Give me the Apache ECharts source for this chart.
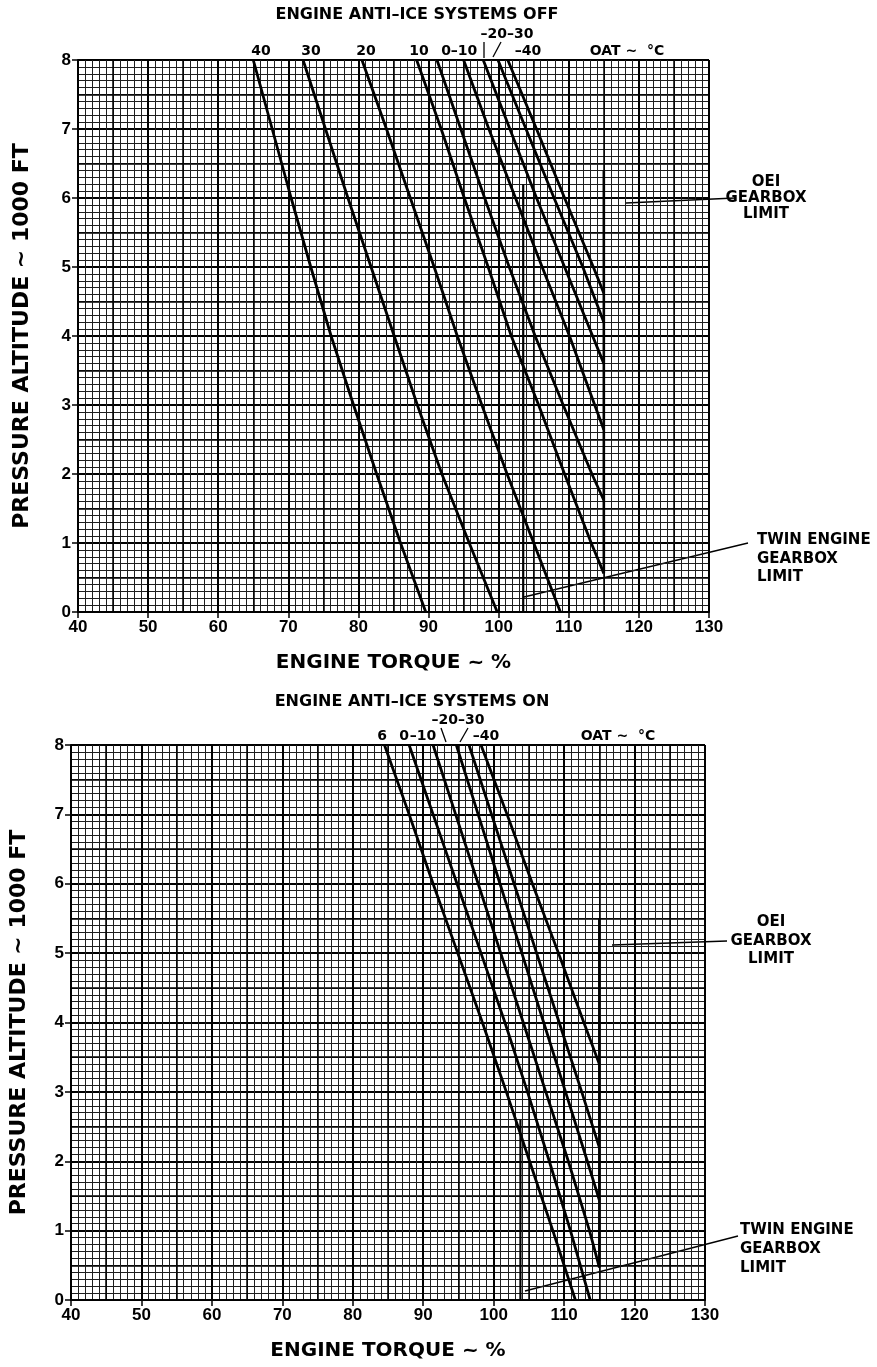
<!DOCTYPE html>
<html>
<head>
<meta charset="utf-8">
<script src="https://cdn.jsdelivr.net/npm/echarts@6/dist/echarts.min.js"></script>
<style>
  html, body { margin: 0; padding: 0; background: #fff; }
  #chart { width: 877px; height: 1367px; }
</style>
</head>
<body>
<div id="chart"></div>
<script>
// pressure altitude (1000 ft) vs engine torque (%), one line per OAT
var altitudes = [8, 7, 6, 5, 4, 3, 2, 1, 0];

// anti-ice OFF
var offLines = {
  '40':  [[65.0, 8], [67.7, 7], [70.4, 6], [73.2, 5], [76.1, 4], [79.3, 3], [82.6, 2], [86.0, 1], [89.6, 0]],
  '30':  [[72.1, 8], [75.3, 7], [78.5, 6], [81.8, 5], [85.1, 4], [88.4, 3], [91.9, 2], [95.8, 1], [99.8, 0]],
  '20':  [[80.5, 8], [84.0, 7], [87.4, 6], [90.8, 5], [94.1, 4], [97.6, 3], [101.2, 2], [105.0, 1], [108.8, 0]],
  '10':  [[88.3, 8], [91.8, 7], [95.1, 6], [98.5, 5], [101.8, 4], [105.7, 3], [109.4, 2], [113.2, 1], [115, 0.56]],
  '0':   [[91.2, 8], [94.6, 7], [98.0, 6], [101.5, 5], [105.2, 4], [109.2, 3], [113.3, 2], [115, 1.62]],
  '-10': [[95.0, 8], [98.6, 7], [102.4, 6], [106.2, 5], [110.1, 4], [113.7, 3], [115, 2.64]],
  '-20': [[97.8, 8], [101.6, 7], [105.4, 6], [109.4, 5], [113.4, 4], [115, 3.6]],
  '-30': [[99.9, 8], [103.9, 7], [107.9, 6], [112.0, 5], [115, 4.2]],
  '-40': [[101.3, 8], [105.4, 7], [109.4, 6], [113.5, 5], [115, 4.62]]
};
var offOei = [[115, 0.56], [115, 6.4]];
var offTwin = [[103.5, 0], [103.5, 6.2]];

// anti-ice ON
var onLines = {
  '6':   [[84.5, 8], [88.0, 7], [91.4, 6], [94.9, 5], [98.4, 4], [101.8, 3], [105.1, 2], [108.4, 1], [111.6, 0]],
  '0':   [[88.0, 8], [91.4, 7], [94.8, 6], [98.2, 5], [101.6, 4], [104.8, 3], [107.9, 2], [110.9, 1], [113.7, 0]],
  '-10': [[91.4, 8], [94.6, 7], [97.8, 6], [101.0, 5], [104.2, 4], [107.4, 3], [110.6, 2], [113.6, 1], [115, 0.47]],
  '-20': [[94.7, 8], [97.8, 7], [100.9, 6], [104.0, 5], [107.1, 4], [110.2, 3], [113.3, 2], [115, 1.44]],
  '-30': [[96.5, 8], [99.7, 7], [102.9, 6], [106.1, 5], [109.3, 4], [112.5, 3], [115, 2.2]],
  '-40': [[98.2, 8], [101.9, 7], [105.5, 6], [109.2, 5], [112.8, 4], [115, 3.4]]
};
var onOei = [[115, 0.47], [115, 5.5]];
var onTwin = [[103.8, 0], [103.8, 2.6]];

var FONT = '"Liberation Sans", Arial, sans-serif';
var WIDE = '"DejaVu Sans", sans-serif';

function mainX(grid, name, gap) {
  return {
    gridIndex: grid, type: 'value', min: 40, max: 130, interval: 10,
    name: name, nameLocation: 'middle', nameGap: gap,
    nameTextStyle: { fontFamily: WIDE, fontWeight: 'bold', fontSize: 20, color: '#000' },
    axisLine: { lineStyle: { color: '#000', width: 2 } },
    axisTick: { show: true, length: 6, lineStyle: { color: '#000', width: 1.5 } },
    axisLabel: { fontFamily: FONT, fontWeight: 'bold', fontSize: 17, color: '#000', margin: 7 },
    splitLine: { show: true, lineStyle: { color: '#000', width: 2 } },
    minorTick: { show: false, splitNumber: 10 },
    minorSplitLine: { show: true, lineStyle: { color: '#1e1e1e', width: 1 } }
  };
}
function midX(grid) {
  return {
    gridIndex: grid, type: 'value', min: 40, max: 130, interval: 5,
    axisLine: { show: false }, axisTick: { show: false }, axisLabel: { show: false },
    splitLine: { show: true, lineStyle: { color: '#000', width: 1.5 } }
  };
}
function mainY(grid, name, gap) {
  return {
    gridIndex: grid, type: 'value', min: 0, max: 8, interval: 1,
    name: name, nameLocation: 'middle', nameGap: gap, nameRotate: 90,
    nameTextStyle: { fontFamily: WIDE, fontWeight: 'bold', fontSize: 22, color: '#000' },
    axisLine: { lineStyle: { color: '#000', width: 2 } },
    axisTick: { show: true, length: 6, lineStyle: { color: '#000', width: 1.5 } },
    axisLabel: { fontFamily: FONT, fontWeight: 'bold', fontSize: 17, color: '#000', margin: 7 },
    splitLine: { show: true, lineStyle: { color: '#000', width: 2 } },
    minorTick: { show: false, splitNumber: 10 },
    minorSplitLine: { show: true, lineStyle: { color: '#1e1e1e', width: 1 } }
  };
}
function midY(grid) {
  return {
    gridIndex: grid, type: 'value', min: 0, max: 8, interval: 0.5,
    axisLine: { show: false }, axisTick: { show: false }, axisLabel: { show: false },
    splitLine: { show: true, lineStyle: { color: '#000', width: 1.5 } }
  };
}

function curve(data, g, w) {
  return {
    type: 'line', data: data, xAxisIndex: g * 2, yAxisIndex: g * 2,
    showSymbol: false, silent: true, animation: false,
    lineStyle: { color: '#000', width: w || 2.8 }
  };
}

var series = [];
Object.keys(offLines).forEach(function (k) { series.push(curve(offLines[k], 0)); });
series.push(curve(offOei, 0, 2.6));
series.push(curve(offTwin, 0, 2.2));
Object.keys(onLines).forEach(function (k) { series.push(curve(onLines[k], 1)); });
series.push(curve(onOei, 1, 2.6));
series.push(curve(onTwin, 1, 2.2));

function txt(x, y, s, size, align) {
  return {
    type: 'text', x: x, y: y, silent: true,
    style: { text: s, fontFamily: WIDE, fontWeight: 'bold', fontSize: size || 14,
             fill: '#000', align: align || 'center', verticalAlign: 'middle' }
  };
}
function seg(x1, y1, x2, y2, w) {
  return { type: 'line', silent: true, shape: { x1: x1, y1: y1, x2: x2, y2: y2 },
           style: { stroke: '#000', lineWidth: w || 1.3 } };
}

var graphics = [
  // top panel header
  txt(417, 15, 'ENGINE ANTI\u2013ICE SYSTEMS OFF', 16),
  txt(261, 51, '40'), txt(311, 51, '30'), txt(366, 51, '20'), txt(419, 51, '10'),
  txt(446, 51, '0'), txt(464, 51, '\u201310'), txt(507, 34, '\u201320\u201330'),
  txt(528, 51, '\u201340'), txt(627, 51, 'OAT ~  \u00b0C'),
  seg(484, 42, 484, 58), seg(501, 42, 493, 57),
  // top panel notes
  txt(766, 182, 'OEI', 15), txt(766, 198, 'GEARBOX', 15), txt(766, 214, 'LIMIT', 15),
  seg(735, 198, 626, 203),
  txt(757, 540, 'TWIN ENGINE', 15, 'left'), txt(757, 559, 'GEARBOX', 15, 'left'), txt(757, 577, 'LIMIT', 15, 'left'),
  seg(748, 543, 524, 597),
  // bottom panel header
  txt(412, 702, 'ENGINE ANTI\u2013ICE SYSTEMS ON', 16),
  txt(382, 736, '6'), txt(404, 736, '0'), txt(423, 736, '\u201310'),
  txt(458, 720, '\u201320\u201330'), txt(486, 736, '\u201340'), txt(618, 736, 'OAT ~  \u00b0C'),
  seg(441, 728, 446, 742), seg(468, 728, 460, 742),
  // bottom panel notes
  txt(771, 922, 'OEI', 15), txt(771, 941, 'GEARBOX', 15), txt(771, 959, 'LIMIT', 15),
  seg(727, 941, 612, 945),
  txt(740, 1230, 'TWIN ENGINE', 15, 'left'), txt(740, 1249, 'GEARBOX', 15, 'left'), txt(740, 1268, 'LIMIT', 15, 'left'),
  seg(738, 1236, 525, 1291)
];

var myChart = echarts.init(document.getElementById('chart'));
var option = {
  backgroundColor: '#fff',
  animation: false,
  grid: [
    { left: 78, right: 168, top: 60, height: 552 },
    { left: 68, right: 172, top: 745, height: 555 }
  ],
  xAxis: [
    mainX(0, 'ENGINE TORQUE ~ %', 41), midX(0),
    mainX(1, 'ENGINE TORQUE ~ %', 41), midX(1)
  ],
  yAxis: [
    mainY(0, 'PRESSURE ALTITUDE ~ 1000 FT', 45), midY(0),
    mainY(1, 'PRESSURE ALTITUDE ~ 1000 FT', 41), midY(1)
  ],
  series: series,
  graphic: graphics
};
myChart.setOption(option);
</script>
</body>
</html>
